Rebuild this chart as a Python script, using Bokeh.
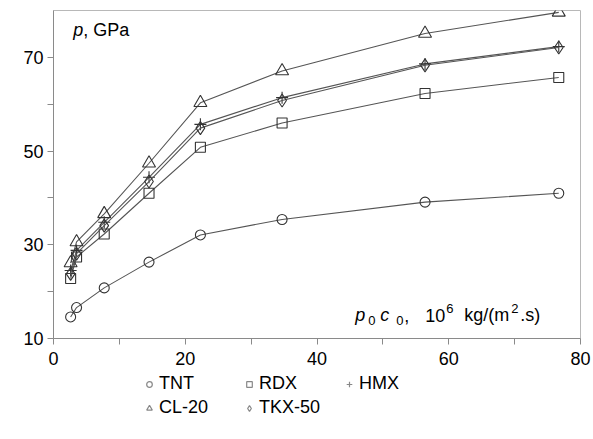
from bokeh.plotting import figure
from bokeh.layouts import column
from bokeh.models import Range1d, FixedTicker, Legend, LegendItem, Label
from bokeh.embed import file_html
from bokeh.resources import INLINE

# impedance p0*c0, 10^6 kg/(m2.s)
x_imp = [2.6, 3.5, 7.7, 14.5, 22.3, 34.7, 56.4, 76.7]
# pressure p, GPa
tnt = [14.6, 16.6, 20.8, 26.3, 32.1, 35.4, 39.1, 41.0]
rdx = [22.8, 27.4, 32.3, 41.0, 50.8, 56.0, 62.3, 65.7]
hmx = [24.5, 28.8, 34.8, 44.4, 55.7, 61.4, 68.6, 72.3]
cl20 = [26.1, 30.6, 36.6, 47.4, 60.3, 67.1, 75.1, 79.6]
tkx50 = [23.8, 28.1, 34.1, 43.5, 54.9, 60.8, 68.3, 72.1]

series_names = ["TNT", "RDX", "HMX", "CL-20", "TKX-50"]
series_vals = [tnt, rdx, hmx, cl20, tkx50]
markers = ["circle", "square", "cross", "triangle", "diamond"]
sizes = [10, 10, 12, 13, 13]

x_ticks = [0, 10, 20, 30, 40, 50, 60, 70, 80]
y_ticks = [10, 20, 30, 40, 50, 60, 70]
x_labels = {0: "0", 10: "", 20: "20", 30: "", 40: "40", 50: "", 60: "60", 70: "", 80: "80"}
y_labels = {10: "10", 20: "", 30: "30", 40: "", 50: "50", 60: "", 70: "70"}

FONT = "Liberation Sans"

p = figure(width=592, height=372, output_backend="svg", toolbar_location=None,
           x_range=Range1d(0, 80), y_range=Range1d(10, 80),
           min_border_left=53, min_border_right=12, min_border_top=10, min_border_bottom=34)
p.background_fill_color = "white"
p.border_fill_color = "white"
p.outline_line_color = "#b8b8b8"
p.outline_line_width = 1
p.grid.visible = False

for ax, ticks, labels in [(p.xaxis[0], x_ticks, x_labels), (p.yaxis[0], y_ticks, y_labels)]:
    ax.ticker = FixedTicker(ticks=ticks, minor_ticks=[])
    ax.major_label_overrides = labels
    ax.axis_line_color = "#8a8a8a"
    ax.major_tick_line_color = "#8a8a8a"
    ax.major_tick_in = 0
    ax.major_tick_out = 6
    ax.minor_tick_line_color = None
    ax.major_label_text_font = FONT
    ax.major_label_text_font_size = "18px"
    ax.major_label_text_color = "black"
p.xaxis.major_label_standoff = 7
p.yaxis.major_label_standoff = 4

for name, vals, mk, sz in zip(series_names, series_vals, markers, sizes):
    p.line(x_imp, vals, line_color="#555555", line_width=1.1)
    p.scatter(x_imp, vals, marker=mk, size=sz, line_color="#333333", fill_color="white",
              fill_alpha=0.0, line_width=1.1)

# axis title annotations
common = dict(text_font=FONT, text_color="black", text_baseline="alphabetic")
p.add_layout(Label(x=3.0, y=75.8, text="p", text_font_style="italic", text_font_size="18px", **common))
p.add_layout(Label(x=3.0, y=75.8, x_offset=10, text=", GPa", text_font_size="18px", **common))

ax_x, ax_y = 45.8, 15.0
pieces = [
    ("p", 0, 0, "italic", "18px"),
    ("0", 13, -5, "normal", "13px"),
    ("c", 25, 0, "italic", "18px"),
    ("0", 41, -5, "normal", "13px"),
    (",", 49, 0, "normal", "18px"),
    ("10", 70, 0, "normal", "18px"),
    ("6", 91, 7, "normal", "13px"),
    ("kg/(m", 109, 0, "normal", "18px"),
    ("2", 156, 7, "normal", "13px"),
    (".s)", 165, 0, "normal", "18px"),
]
for t, dx, dy, style, fs in pieces:
    p.add_layout(Label(x=ax_x, y=ax_y, x_offset=dx, y_offset=dy, text=t,
                       text_font_style=style, text_font_size=fs, **common))

# legend strip below the chart (its renderers hold one point outside the visible range)
lg = figure(width=592, height=60, output_backend="svg", toolbar_location=None,
            x_axis_type=None, y_axis_type=None, x_range=Range1d(0, 1), y_range=Range1d(0, 1),
            min_border_left=0, min_border_right=0, min_border_top=0, min_border_bottom=0)
lg.outline_line_color = None
lg.grid.visible = False
items = []
for name, mk in zip(series_names, markers):
    r = lg.scatter(x=[-5], y=[-5], marker=mk, size=8, line_color="#888888", fill_alpha=0,
                   line_width=1.2)
    items.append(LegendItem(label=name, renderers=[r]))
legend = Legend(items=items, orientation="horizontal", ncols=3,
                location=(89, 14), padding=0, spacing=3, margin=0,
                glyph_width=14, glyph_height=18, label_standoff=3, label_width=80,
                label_height=18, label_text_font=FONT, label_text_font_size="18px",
                label_text_color="black", border_line_alpha=0, background_fill_alpha=0)
lg.add_layout(legend, "center")

layout = column(p, lg, spacing=0)
open("out.html", "w").write(file_html(layout, INLINE))
